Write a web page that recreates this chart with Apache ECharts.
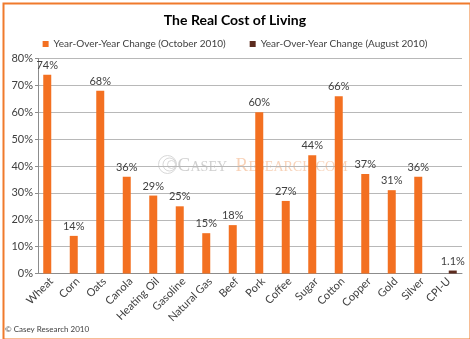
<!DOCTYPE html>
<html>
<head>
<meta charset="utf-8">
<script src="https://cdn.jsdelivr.net/npm/echarts@6/dist/echarts.min.js"></script>
<style>
html,body{margin:0;padding:0;background:#fff;}
#c{width:470px;height:339px;}
</style>
</head>
<body>
<div id="c"></div>
<script>
const categories = ['Wheat','Corn','Oats','Canola','Heating Oil','Gasoline','Natural Gas','Beef','Pork','Coffee','Sugar','Cotton','Copper','Gold','Silver','CPI-U'];
const october2010 = [74,14,68,36,29,25,15,18,60,27,44,66,37,31,36,null];
const august2010 = [null,null,null,null,null,null,null,null,null,null,null,null,null,null,null,1.1];
const seriesNames = ['Year-Over-Year Change (October 2010)','Year-Over-Year Change (August 2010)'];
const yTicks = [0,10,20,30,40,50,60,70,80];

const FONT = 'Lato, "Open Sans", sans-serif';
const chart = echarts.init(document.getElementById('c'), null, {renderer:'canvas'});
chart.setOption({
  animation:false,
  backgroundColor:'#fff',
  title:{text:'The Real Cost of Living', left:'center', top:8,
    textStyle:{fontFamily:FONT, fontSize:14, fontWeight:'bold', color:'#000'}},
  legend:{top:34, left:'center', itemWidth:6, itemHeight:6, itemGap:24, icon:'rect',
    textStyle:{fontFamily:FONT, fontSize:10, color:'#404040'},
    data:seriesNames},
  grid:{left:38, right:8, top:58.5, bottom:65.5, containLabel:false},
  xAxis:{type:'category', data:categories,
    axisLine:{lineStyle:{color:'#8c8c8c'}},
    axisTick:{alignWithLabel:false, length:4, lineStyle:{color:'#8c8c8c'}},
    axisLabel:{rotate:45, interval:0, fontFamily:FONT, fontSize:11, color:'#404040', margin:6}},
  yAxis:{type:'value', min:yTicks[0], max:yTicks[yTicks.length-1], interval:10,
    axisLine:{show:true, lineStyle:{color:'#8c8c8c'}},
    axisTick:{show:true, length:3, lineStyle:{color:'#8c8c8c'}},
    splitLine:{lineStyle:{color:'#b8b8b8'}},
    axisLabel:{formatter:'{value}%', fontFamily:FONT, fontSize:11, color:'#404040', margin:5}},
  graphic:[
    {type:'rect', left:1, top:1, shape:{width:467, height:336}, style:{fill:'none', stroke:'#F07A2C', lineWidth:2}, z:100},
    {type:'text', left:5, top:325, style:{text:'© Casey Research 2010', font:'8px '+FONT, fill:'#404040'}},
    {type:'group', left:156, top:153, z:-1, children:[
      {type:'circle', shape:{cx:9, cy:10, r:9}, style:{fill:'none', stroke:'#d8d8d8', lineWidth:1}},
      {type:'circle', shape:{cx:11, cy:10, r:6.5}, style:{fill:'none', stroke:'#d8d8d8', lineWidth:1}},
      {type:'circle', shape:{cx:13, cy:10, r:4}, style:{fill:'none', stroke:'#d8d8d8', lineWidth:1}},
      {type:'text', x:19, y:2, style:{text:'C', font:'19px "Liberation Serif", serif', fill:'#cfcfcf'}},
      {type:'text', x:32, y:6, style:{text:'ASEY', font:'14px "Liberation Serif", serif', fill:'#cfcfcf'}},
      {type:'text', x:77, y:2, style:{text:'R', font:'19px "Liberation Serif", serif', fill:'#f8d2b8'}},
      {type:'text', x:90, y:6, style:{text:'ESEARCH.COM', font:'14px "Liberation Serif", serif', fill:'#f8d2b8'}}
    ]}
  ],
  series:[
    {name:seriesNames[0], type:'bar', data:october2010, barWidth:8, barGap:'0%',
      itemStyle:{color:'#F37021'},
      label:{show:true, position:'top', formatter:'{c}%', fontFamily:FONT, fontSize:11, color:'#404040', distance:4}},
    {name:seriesNames[1], type:'bar', data:august2010, barWidth:8, barGap:'0%',
      itemStyle:{color:'#5C2B1E'},
      label:{show:true, position:'top', formatter:'{c}%', fontFamily:FONT, fontSize:11, color:'#404040', distance:4}}
  ]
});
</script>
</body>
</html>
